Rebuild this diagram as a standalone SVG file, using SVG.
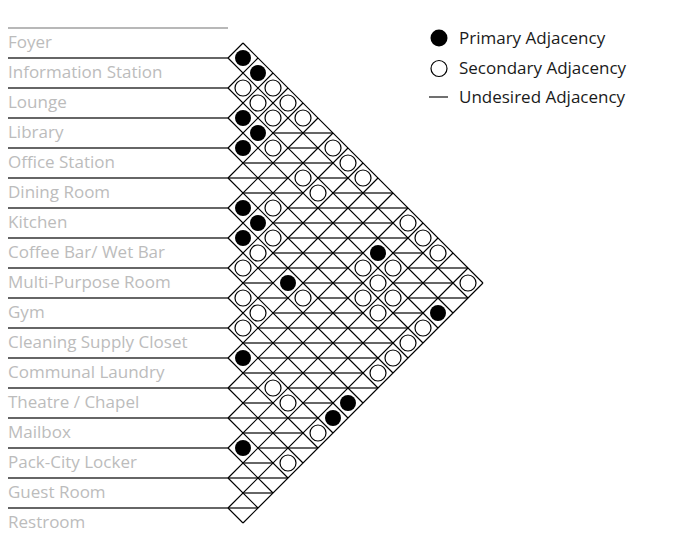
<svg xmlns="http://www.w3.org/2000/svg" width="699" height="540" viewBox="0 0 699 540">
<style>
.lbl{font-family:"Open Sans","Noto Sans",sans-serif;font-size:17px;fill:#bcbcbc}
.leg{font-family:"Open Sans","Noto Sans",sans-serif;font-size:17px;fill:#1a1a1a}
.sep{stroke:#666;stroke-width:2;fill:none}
.und{stroke:#666;stroke-width:2;fill:none}
.diag{stroke:#000;stroke-width:1.2;fill:none}
.pri{fill:#000}
.sec{fill:#fff;stroke:#000;stroke-width:1.2}
</style>
<rect width="699" height="540" fill="#fff"/>
<line x1="8" y1="28" x2="228" y2="28" stroke="#a0a0a0" stroke-width="1.3"/>
<g id="rows">
<g id="row-foyer"><text class="lbl" x="8" y="47.5">Foyer</text></g>
<g id="row-information-station"><text class="lbl" x="8" y="77.5">Information Station</text></g>
<g id="row-lounge"><text class="lbl" x="8" y="107.5">Lounge</text></g>
<g id="row-library"><text class="lbl" x="8" y="137.5">Library</text></g>
<g id="row-office-station"><text class="lbl" x="8" y="167.5">Office Station</text></g>
<g id="row-dining-room"><text class="lbl" x="8" y="197.5">Dining Room</text></g>
<g id="row-kitchen"><text class="lbl" x="8" y="227.5">Kitchen</text></g>
<g id="row-coffee-bar"><text class="lbl" x="8" y="257.5">Coffee Bar/ Wet Bar</text></g>
<g id="row-multi-purpose-room"><text class="lbl" x="8" y="287.5">Multi-Purpose Room</text></g>
<g id="row-gym"><text class="lbl" x="8" y="317.5">Gym</text></g>
<g id="row-cleaning-supply-closet"><text class="lbl" x="8" y="347.5">Cleaning Supply Closet</text></g>
<g id="row-communal-laundry"><text class="lbl" x="8" y="377.5">Communal Laundry</text></g>
<g id="row-theatre-chapel"><text class="lbl" x="8" y="407.5">Theatre / Chapel</text></g>
<g id="row-mailbox"><text class="lbl" x="8" y="437.5">Mailbox</text></g>
<g id="row-pack-city-locker"><text class="lbl" x="8" y="467.5">Pack-City Locker</text></g>
<g id="row-guest-room"><text class="lbl" x="8" y="497.5">Guest Room</text></g>
<g id="row-restroom"><text class="lbl" x="8" y="527.5">Restroom</text></g>
</g>
<g id="connectors">
<path class="sep" d="M8 58H228M8 88H228M8 118H228M8 148H228M8 178H228M8 208H228M8 238H228M8 268H228M8 298H228M8 328H228M8 358H228M8 388H228M8 418H228M8 448H228M8 478H228M8 508H228"/>
<path class="und" d="M273 133H333M288 148H318M243 163H333M228 178H288M318 178H348M243 193H303M333 193H393M288 208H408M273 223H393M288 238H408M273 253H363M393 253H423M258 268H348M408 268H468M243 283H273M303 283H363M393 283H453M258 298H288M318 298H348M408 298H468M273 313H363M393 313H423M258 328H408M243 343H393M258 358H378M243 373H363M228 388H258M288 388H378M243 403H273M303 403H333M228 418H318M243 433H303M258 448H318M243 463H273M228 478H288M243 493H273M228 508H258"/>
<path class="diag" d="M243 43L483 283M228 58L468 298M228 88L453 313M228 118L438 328M228 148L423 343M228 178L408 358M228 208L393 373M228 238L378 388M228 268L363 403M228 298L348 418M228 328L333 433M228 358L318 448M228 388L303 463M228 418L288 478M228 448L273 493M228 478L258 508M228 508L243 523M228 58L243 43M228 88L258 58M228 118L273 73M228 148L288 88M228 178L303 103M228 208L318 118M228 238L333 133M228 268L348 148M228 298L363 163M228 328L378 178M228 358L393 193M228 388L408 208M228 418L423 223M228 448L438 238M228 478L453 253M228 508L468 268M243 523L483 283"/>
</g>
<g id="marks">
<g class="pri">
<circle cx="243" cy="58" r="8"/><circle cx="258" cy="73" r="8"/><circle cx="243" cy="118" r="8"/><circle cx="258" cy="133" r="8"/><circle cx="243" cy="148" r="8"/><circle cx="243" cy="208" r="8"/><circle cx="258" cy="223" r="8"/><circle cx="243" cy="238" r="8"/><circle cx="378" cy="253" r="8"/><circle cx="288" cy="283" r="8"/><circle cx="438" cy="313" r="8"/><circle cx="243" cy="358" r="8"/><circle cx="348" cy="403" r="8"/><circle cx="333" cy="418" r="8"/><circle cx="243" cy="448" r="8"/>
</g>
<g class="sec">
<circle cx="243" cy="88" r="8"/><circle cx="273" cy="88" r="8"/><circle cx="258" cy="103" r="8"/><circle cx="288" cy="103" r="8"/><circle cx="273" cy="118" r="8"/><circle cx="303" cy="118" r="8"/><circle cx="273" cy="148" r="8"/><circle cx="333" cy="148" r="8"/><circle cx="348" cy="163" r="8"/><circle cx="303" cy="178" r="8"/><circle cx="363" cy="178" r="8"/><circle cx="318" cy="193" r="8"/><circle cx="273" cy="208" r="8"/><circle cx="408" cy="223" r="8"/><circle cx="273" cy="238" r="8"/><circle cx="423" cy="238" r="8"/><circle cx="258" cy="253" r="8"/><circle cx="438" cy="253" r="8"/><circle cx="243" cy="268" r="8"/><circle cx="363" cy="268" r="8"/><circle cx="393" cy="268" r="8"/><circle cx="378" cy="283" r="8"/><circle cx="468" cy="283" r="8"/><circle cx="243" cy="298" r="8"/><circle cx="303" cy="298" r="8"/><circle cx="363" cy="298" r="8"/><circle cx="393" cy="298" r="8"/><circle cx="258" cy="313" r="8"/><circle cx="378" cy="313" r="8"/><circle cx="243" cy="328" r="8"/><circle cx="423" cy="328" r="8"/><circle cx="408" cy="343" r="8"/><circle cx="393" cy="358" r="8"/><circle cx="378" cy="373" r="8"/><circle cx="273" cy="388" r="8"/><circle cx="288" cy="403" r="8"/><circle cx="318" cy="433" r="8"/><circle cx="288" cy="463" r="8"/>
</g>
</g>
<g id="legend">
<g id="legend-primary"><circle class="pri" cx="439" cy="38" r="8.5"/><text class="leg" x="459" y="43.5">Primary Adjacency</text></g>
<g id="legend-secondary"><circle class="sec" cx="439" cy="68.5" r="8"/><text class="leg" x="459" y="73.5">Secondary Adjacency</text></g>
<g id="legend-undesired"><line x1="429" y1="97" x2="448" y2="97" stroke="#222" stroke-width="1.3"/><text class="leg" x="459" y="103">Undesired Adjacency</text></g>
</g>
</svg>
